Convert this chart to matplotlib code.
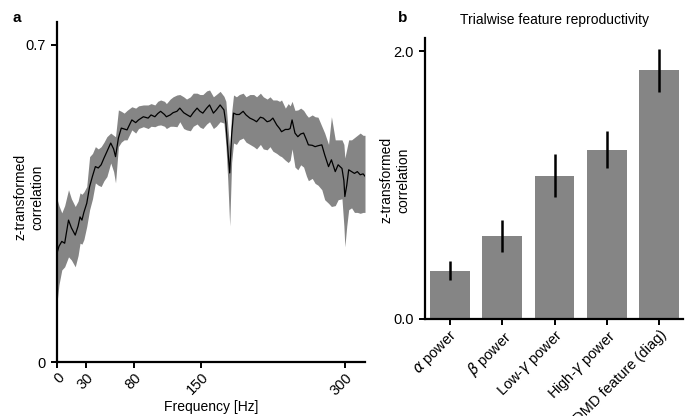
import matplotlib
matplotlib.use("Agg")
import matplotlib.pyplot as plt
import numpy as np

plt.rcParams['font.family'] = ['Liberation Sans', 'DejaVu Sans']

# ---- Panel a data ----
freq = [0, 2, 5, 8, 12, 15, 19, 22, 24, 26, 28, 31, 34, 37, 40, 43, 46, 49, 52, 56,
        59, 61, 64, 67, 70, 73, 78, 82, 85, 90, 95, 98, 102, 105, 108, 112, 114, 118,
        121, 125, 128, 132, 135, 139, 142, 146, 149, 152, 156, 159, 163, 166, 170, 174,
        176, 178, 180, 182, 184, 187, 190, 194, 197, 201, 205, 208, 212, 215, 219, 222,
        225, 229, 232, 234, 238, 241, 243, 245, 248, 251, 254, 257, 260, 262, 266, 269,
        272, 276, 279, 283, 286, 290, 293, 297, 299, 300, 302, 304, 307, 310, 313, 316,
        319, 321]
corr_mean = [0.24, 0.255, 0.266, 0.262, 0.313, 0.296, 0.28, 0.30, 0.32, 0.313, 0.33, 0.35,
             0.387, 0.41, 0.431, 0.428, 0.435, 0.45, 0.464, 0.483, 0.47, 0.453, 0.494, 0.516,
             0.514, 0.512, 0.534, 0.528, 0.534, 0.541, 0.538, 0.545, 0.541, 0.548, 0.553,
             0.546, 0.541, 0.545, 0.55, 0.553, 0.56, 0.55, 0.546, 0.541, 0.55, 0.56, 0.553,
             0.549, 0.56, 0.567, 0.549, 0.556, 0.567, 0.556, 0.527, 0.47, 0.417, 0.50, 0.549,
             0.546, 0.546, 0.553, 0.545, 0.538, 0.534, 0.53, 0.54, 0.538, 0.53, 0.532, 0.538,
             0.523, 0.515, 0.508, 0.513, 0.513, 0.515, 0.534, 0.505, 0.497, 0.503, 0.505,
             0.49, 0.479, 0.478, 0.475, 0.477, 0.479, 0.457, 0.431, 0.446, 0.42, 0.435, 0.427,
             0.40, 0.365, 0.39, 0.424, 0.42, 0.416, 0.42, 0.413, 0.415, 0.41]
corr_upper = [0.36, 0.345, 0.329, 0.345, 0.38, 0.36, 0.343, 0.355, 0.373, 0.37, 0.375, 0.387,
              0.453, 0.46, 0.475, 0.47, 0.475, 0.485, 0.497, 0.505, 0.50, 0.497, 0.556, 0.553,
              0.549, 0.555, 0.563, 0.56, 0.565, 0.567, 0.567, 0.57, 0.567, 0.575, 0.578, 0.575,
              0.57, 0.58, 0.585, 0.589, 0.59, 0.585, 0.58, 0.585, 0.593, 0.593, 0.59, 0.59,
              0.598, 0.60, 0.585, 0.59, 0.597, 0.586, 0.575, 0.52, 0.47, 0.55, 0.589, 0.585,
              0.59, 0.593, 0.585, 0.59, 0.59, 0.585, 0.593, 0.585, 0.58, 0.585, 0.578, 0.578,
              0.575, 0.578, 0.56, 0.57, 0.565, 0.575, 0.555, 0.556, 0.56, 0.555, 0.545, 0.54,
              0.545, 0.541, 0.54, 0.52, 0.505, 0.48, 0.541, 0.49, 0.49, 0.49, 0.48, 0.45, 0.47,
              0.49, 0.49, 0.495, 0.50, 0.505, 0.50, 0.50]
corr_lower = [0.13, 0.17, 0.203, 0.21, 0.232, 0.225, 0.21, 0.235, 0.262, 0.26, 0.27, 0.299,
              0.336, 0.36, 0.395, 0.39, 0.387, 0.40, 0.409, 0.439, 0.42, 0.395, 0.475, 0.485,
              0.49, 0.49, 0.512, 0.505, 0.515, 0.519, 0.515, 0.52, 0.519, 0.522, 0.523, 0.52,
              0.515, 0.52, 0.52, 0.519, 0.53, 0.515, 0.512, 0.51, 0.52, 0.525, 0.518, 0.515,
              0.525, 0.53, 0.515, 0.52, 0.53, 0.527, 0.48, 0.40, 0.30, 0.44, 0.483, 0.48, 0.49,
              0.494, 0.485, 0.48, 0.475, 0.47, 0.48, 0.47, 0.468, 0.475, 0.465, 0.46, 0.455,
              0.453, 0.445, 0.44, 0.445, 0.47, 0.43, 0.424, 0.435, 0.43, 0.41, 0.40, 0.405,
              0.394, 0.39, 0.38, 0.358, 0.35, 0.343, 0.345, 0.358, 0.36, 0.30, 0.254, 0.30,
              0.336, 0.34, 0.33, 0.33, 0.328, 0.33, 0.33]
freq_ticks = [0, 30, 80, 150, 300]

# ---- Panel b data ----
features = [r'$\alpha$ power', r'$\beta$ power', r'Low-$\gamma$ power',
            r'High-$\gamma$ power', 'DMD feature (diag)']
feat_mean = [0.36, 0.62, 1.07, 1.265, 1.86]
feat_err = [0.07, 0.12, 0.16, 0.14, 0.16]

GREY = '#858585'
FS = 10

fig = plt.figure(figsize=(6.85, 4.16), dpi=100)

# Panel a
ax1 = fig.add_axes([57/685, 1-362/416, 308/685, 340/416])
ax1.fill_between(freq, corr_lower, corr_upper, color=GREY, lw=0)
ax1.plot(freq, corr_mean, color='black', lw=0.9)
ax1.set_xlim(0, 321)
ax1.set_ylim(0, 0.75)
ax1.set_yticks([0, 0.7])
ax1.set_yticklabels(['0', '0.7'])
ax1.set_xticks(freq_ticks)
ax1.set_xticklabels([str(t) for t in freq_ticks], rotation=45, ha='right',
                    rotation_mode='anchor')
ax1.set_xlabel('Frequency [Hz]', fontsize=FS, labelpad=2)
ax1.set_ylabel('z-transformed\ncorrelation', fontsize=FS)
ax1.yaxis.set_label_coords(-0.042, 0.485)
for s in ['top', 'right']:
    ax1.spines[s].set_visible(False)
for s in ['left', 'bottom']:
    ax1.spines[s].set_linewidth(1.6)
ax1.tick_params(direction='out', length=4, width=1.4, labelsize=FS + 0.5, pad=2)
ax1.tick_params(axis='y', pad=4)
fig.text(12/685, 1-18/416, 'a', fontsize=11, fontweight='bold', va='center')

# Panel b
ax2 = fig.add_axes([425/685, 1-319/416, 258/685, 281/416])
x = np.arange(len(features))
ax2.bar(x, feat_mean, width=0.76, color=GREY, edgecolor='none')
ax2.errorbar(x, feat_mean, yerr=feat_err, fmt='none', ecolor='black', elinewidth=1.8,
             capsize=0)
ax2.set_xlim(-0.47, 4.45)
ax2.set_ylim(0, 2.1)
ax2.set_yticks([0, 2.0])
ax2.set_yticklabels(['0.0', '2.0'])
ax2.set_xticks(x)
ax2.set_xticklabels(features, rotation=45, ha='right', rotation_mode='anchor')
ax2.set_ylabel('z-transformed\ncorrelation', fontsize=FS)
ax2.yaxis.set_label_coords(-0.058, 0.495)
ax2.set_title('Trialwise feature reproductivity', fontsize=FS, pad=10)
for s in ['top', 'right']:
    ax2.spines[s].set_visible(False)
for s in ['left', 'bottom']:
    ax2.spines[s].set_linewidth(1.6)
ax2.tick_params(direction='out', length=4, width=1.4, labelsize=FS + 0.5, pad=2)
ax2.tick_params(axis='y', pad=4)
fig.text(398/685, 1-18/416, 'b', fontsize=11, fontweight='bold', va='center')

fig.savefig('out.png', dpi=100)
